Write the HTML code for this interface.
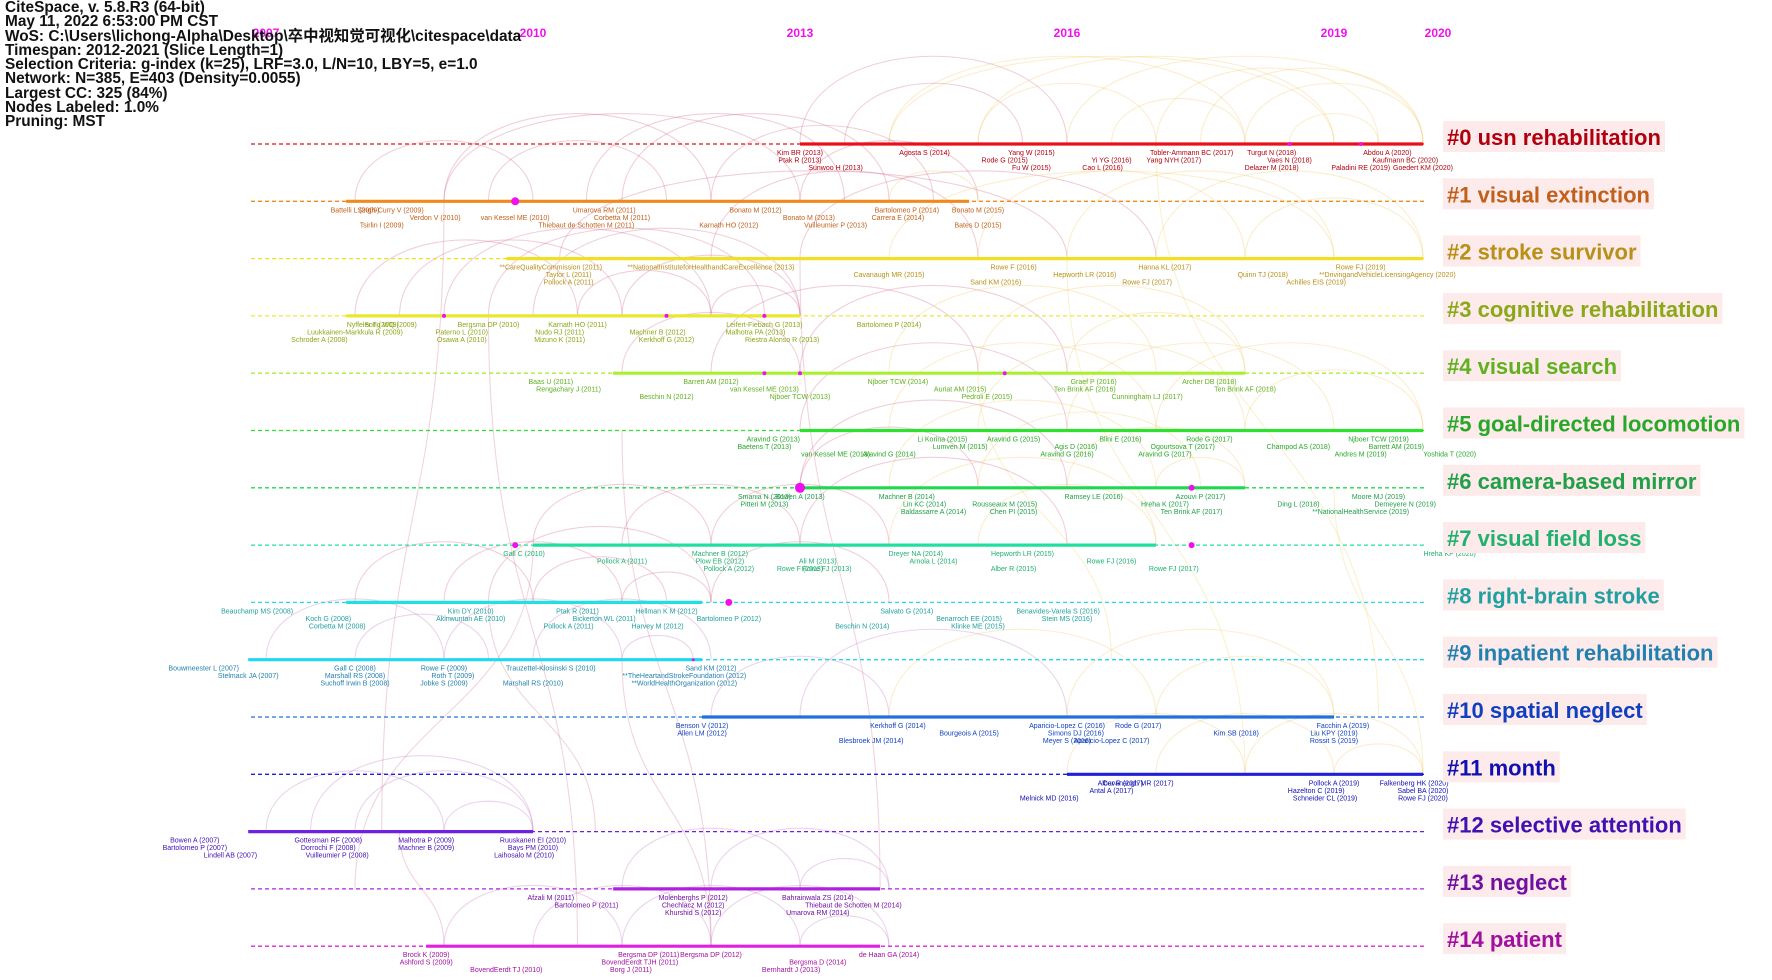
<!DOCTYPE html>
<html><head><meta charset="utf-8">
<style>
html,body{margin:0;padding:0;background:#fff;}
body{width:1772px;height:980px;overflow:hidden;position:relative;font-family:"Liberation Sans","Noto Sans CJK SC",sans-serif;}
#hdr{position:absolute;left:5px;top:1px;font-weight:bold;font-size:15.4px;line-height:14.3px;color:#111;z-index:3;}
svg{position:absolute;left:0;top:0;}
</style></head><body>
<div id="hdr">
CiteSpace, v. 5.8.R3 (64-bit)<br>May 11, 2022 6:53:00 PM CST<br>WoS: C:\Users\lichong-Alpha\Desktop\卒中视知觉可视化\citespace\data<br>Timespan: 2012-2021 (Slice Length=1)<br>Selection Criteria: g-index (k=25), LRF=3.0, L/N=10, LBY=5, e=1.0<br>Network: N=385, E=403 (Density=0.0055)<br>Largest CC: 325 (84%)<br>Nodes Labeled: 1.0%<br>Pruning: MST
</div>
<svg id="chart" width="1772" height="980"></svg>
<script>
const yearTicks=[2007,2010,2013,2016,2019,2020];
const clusterNames=["#0 usn rehabilitation","#1 visual extinction","#2 stroke survivor","#3 cognitive rehabilitation","#4 visual search","#5 goal-directed locomotion","#6 camera-based mirror","#7 visual field loss","#8 right-brain stroke","#9 inpatient rehabilitation","#10 spatial neglect","#11 month","#12 selective attention","#13 neglect","#14 patient"];
const segStart=[2013,2007.9,2009.7,2007.9,2010.9,2013,2013,2010,2007.9,2006.8,2011.9,2016,2006.8,2010.9,2008.8];
const segEnd=[2020,2014.9,2020,2013,2018,2020,2018,2017,2011.9,2011.9,2019,2020,2010,2013.9,2013.9];
const lineColors=["#e8101a","#f08a1a","#f0e020","#e8e830","#a8f030","#30e030","#20d850","#20e0a0","#20e0e0","#20d8f0","#2070e0","#2020d8","#7020e0","#b020e0","#e020e0"];
const labelColors=["#b00010","#c0601a","#b89018","#8aa818","#60b020","#28a828","#20a048","#20b070","#20a0a0","#2080b0","#1040c0","#1010b0","#4010b0","#7010a0","#a010a0"];
const nodeLabels=[
[[2013,"Kim BR (2013)"],[2013,"Ptak R (2013)"],[2013.4,"Sunwoo H (2013)"],[2014.4,"Agosta S (2014)"],[2015.3,"Rode G (2015)"],[2015.6,"Fu W (2015)"],[2015.6,"Yang W (2015)"],[2016.5,"Yi YG (2016)"],[2016.4,"Cao L (2016)"],[2017.4,"Tobler-Ammann BC (2017)"],[2017.2,"Yang NYH (2017)"],[2018.3,"Delazer M (2018)"],[2018.3,"Turgut N (2018)"],[2018.5,"Vaes N (2018)"],[2019.3,"Paladini RE (2019)"],[2019.6,"Abdou A (2020)"],[2019.8,"Kaufmann BC (2020)"],[2020,"Goedert KM (2020)"]],
[[2008,"Battelli L (2009)"],[2008.9,"Verdon V (2010)"],[2008.3,"Tsirlin I (2009)"],[2008.4,"Singh-Curry V (2009)"],[2009.8,"van Kessel ME (2010)"],[2010.6,"Thiebaut de Schotten M (2011)"],[2010.8,"Umarova RM (2011)"],[2011,"Corbetta M (2011)"],[2012.2,"Karnath HO (2012)"],[2012.5,"Bonato M (2012)"],[2013.1,"Bonato M (2013)"],[2013.4,"Vuilleumier P (2013)"],[2014.2,"Bartolomeo P (2014)"],[2014.1,"Carrera E (2014)"],[2015,"Bates D (2015)"],[2015,"Bonato M (2015)"]],
[[2010.2,"**CareQualityCommission (2011)"],[2010.4,"Taylor L (2011)"],[2010.4,"Pollock A (2011)"],[2012,"**NationalInstituteforHealthandCareExcellence (2013)"],[2014,"Cavanaugh MR (2015)"],[2015.2,"Sand KM (2016)"],[2015.4,"Rowe F (2016)"],[2016.2,"Hepworth LR (2016)"],[2016.9,"Rowe FJ (2017)"],[2017.1,"Hanna KL (2017)"],[2018.2,"Quinn TJ (2018)"],[2018.8,"Achilles EIS (2019)"],[2019.3,"Rowe FJ (2019)"],[2019.6,"**DrivingandVehicleLicensingAgency (2020)"]],
[[2008.2,"Nyffeler T (2009)"],[2008,"Luukkainen-Markkula R (2009)"],[2007.6,"Schroder A (2008)"],[2008.4,"Song WQ (2009)"],[2009.2,"Paterno L (2010)"],[2009.2,"Osawa A (2010)"],[2009.5,"Bergsma DP (2010)"],[2010.3,"Nudo RJ (2011)"],[2010.3,"Mizuno K (2011)"],[2010.5,"Karnath HO (2011)"],[2011.4,"Machner B (2012)"],[2011.5,"Kerkhoff G (2012)"],[2012.6,"Leifert-Fiebach G (2013)"],[2012.5,"Malhotra PA (2013)"],[2012.8,"Riestra Alonso R (2013)"],[2014,"Bartolomeo P (2014)"]],
[[2010.2,"Baas U (2011)"],[2010.4,"Rengachary J (2011)"],[2011.5,"Beschin N (2012)"],[2012,"Barrett AM (2012)"],[2012.6,"van Kessel ME (2013)"],[2013,"Njboer TCW (2013)"],[2014.1,"Njboer TCW (2014)"],[2014.8,"Auriat AM (2015)"],[2015.1,"Pedroli E (2015)"],[2016.3,"Graef P (2016)"],[2016.2,"Ten Brink AF (2016)"],[2016.9,"Cunningham LJ (2017)"],[2017.6,"Archer DB (2018)"],[2018,"Ten Brink AF (2018)"]],
[[2012.7,"Aravind G (2013)"],[2012.6,"Baetens T (2013)"],[2013.4,"van Kessel ME (2013)"],[2014.6,"Li Korina (2015)"],[2014.8,"Lumven M (2015)"],[2014,"Aravind G (2014)"],[2015.4,"Aravind G (2015)"],[2016.1,"Agis D (2016)"],[2016,"Aravind G (2016)"],[2016.6,"Blini E (2016)"],[2017.3,"Ogourtsova T (2017)"],[2017.1,"Aravind G (2017)"],[2017.6,"Rode G (2017)"],[2018.6,"Champod AS (2018)"],[2019.3,"Andres M (2019)"],[2019.5,"Njboer TCW (2019)"],[2019.7,"Barrett AM (2019)"],[2020.3,"Yoshida T (2020)"]],
[[2012.6,"Smania N (2013)"],[2012.6,"Pitteri M (2013)"],[213.0,""],[2013,"Bowen A (2013)"],[2014.4,"Lin KC (2014)"],[2014.5,"Baldassarre A (2014)"],[2014.2,"Machner B (2014)"],[2015.3,"Rousseaux M (2015)"],[2015.4,"Chen PI (2015)"],[2016.3,"Ramsey LE (2016)"],[2017.1,"Hreha K (2017)"],[2017.4,"Ten Brink AF (2017)"],[2017.5,"Azouvi P (2017)"],[2018.6,"Ding L (2018)"],[2019.3,"**NationalHealthService (2019)"],[2019.5,"Moore MJ (2019)"],[2019.8,"Demeyere N (2019)"]],
[[2009.9,"Gall C (2010)"],[2011,"Pollock A (2011)"],[2012.2,"Pollock A (2012)"],[2012.1,"Machner B (2012)"],[2012.1,"Plow EB (2012)"],[2013,"Rowe F (2013)"],[213,""],[2013.2,"Ali M (2013)"],[2013.3,"Rowe FJ (2013)"],[2014.3,"Dreyer NA (2014)"],[2014.5,"Arnola L (2014)"],[2015.4,"Alber R (2015)"],[2015.5,"Hepworth LR (2015)"],[2016.5,"Rowe FJ (2016)"],[2017.2,"Rowe FJ (2017)"],[2020.3,"Hreha KP (2020)"]],
[[2006.9,"Beauchamp MS (2008)"],[2007.7,"Koch G (2008)"],[2007.8,"Corbetta M (2008)"],[2009.3,"Kim DY (2010)"],[2009.3,"Akinwuntan AE (2010)"],[2010.4,"Pollock A (2011)"],[2010.5,"Ptak R (2011)"],[2010.8,"Bickerton WL (2011)"],[2011.4,"Harvey M (2012)"],[2011.5,"Hellman K M (2012)"],[2012.2,"Bartolomeo P (2012)"],[2013.7,"Beschin N (2014)"],[2014.2,"Salvato G (2014)"],[2014.9,"Benarroch EE (2015)"],[2015,"Klinke ME (2015)"],[2015.9,"Benavides-Varela S (2016)"],[2016,"Stein MS (2016)"]],
[[2006.3,"Bouwmeester L (2007)"],[2006.8,"Stelmack JA (2007)"],[2008,"Suchoff Irwin B (2008)"],[2008,"Gall C (2008)"],[2008,"Marshall RS (2008)"],[2009,"Jobke S (2009)"],[2009,"Rowe F (2009)"],[2009.1,"Roth T (2009)"],[2010,"Marshall RS (2010)"],[2010.2,"Trauzettel-Klosinski S (2010)"],[2011.7,"**TheHeartandStrokeFoundation (2012)"],[2011.7,"**WorldHealthOrganization (2012)"],[2012,"Sand KM (2012)"]],
[[2011.9,"Benson V (2012)"],[2011.9,"Allen LM (2012)"],[2013.8,"Blesbroek JM (2014)"],[2014.1,"Kerkhoff G (2014)"],[2014.9,"Bourgeois A (2015)"],[2016,"Meyer S (2016)"],[2016,"Aparicio-Lopez C (2016)"],[2016.1,"Simons DJ (2016)"],[2016.5,"Aparicio-Lopez C (2017)"],[2016.8,"Rode G (2017)"],[2017.9,"Kim SB (2018)"],[2019,"Rossit S (2019)"],[2019.1,"Facchin A (2019)"],[2019,"Liu KPY (2019)"]],
[[2016.6,"Alber R (2017)"],[2016.5,"Antal A (2017)"],[2015.8,"Melnick MD (2016)"],[2016.8,"Cavanaugh MR (2017)"],[2018.8,"Hazelton C (2019)"],[2018.9,"Schneider CL (2019)"],[2019,"Pollock A (2019)"],[2020,"Sabel BA (2020)"],[2020,"Rowe FJ (2020)"],[2019.9,"Falkenberg HK (2020)"]],
[[2006.2,"Bowen A (2007)"],[2006.2,"Bartolomeo P (2007)"],[2006.6,"Lindell AB (2007)"],[2007.7,"Gottesman RF (2008)"],[2007.7,"Dorrochi F (2008)"],[2007.8,"Vuilleumier P (2008)"],[2008.8,"Malhotra P (2009)"],[2008.8,"Machner B (2009)"],[2009.9,"Laihosalo M (2010)"],[2010,"Ruuskanen EI (2010)"],[2010,"Bays PM (2010)"]],
[[2010.2,"Afzali M (2011)"],[2010.6,"Bartolomeo P (2011)"],[2011.8,"Khurshid S (2012)"],[2011.8,"Molenberghs P (2012)"],[2011.8,"Chechlacz M (2012)"],[2013.2,"Umarova RM (2014)"],[2013.2,"Bahrainwala ZS (2014)"],[2013.6,"Thiebaut de Schotten M (2014)"]],
[[2008.8,"Brock K (2009)"],[2008.8,"Ashford S (2009)"],[2009.7,"BovendEerdt TJ (2010)"],[2011.3,"Bergsma DP (2011)"],[2011.2,"BovendEerdt TJH (2011)"],[2011.1,"Borg J (2011)"],[2012,"Bergsma DP (2012)"],[2013.2,"Bergsma D (2014)"],[2012.9,"Bernhardt J (2013)"],[2014,"de Haan GA (2014)"]]
];
const arcsFrom=[[2013,2014,2015,2016,2013.5,2017,2018,2015,2016.5,2014,2017.5,2018.5],[2008,2009,2009.5,2010.6,2011,2012,2013,2009,2014],[2010.3,2012,2013,2014,2015,2016,2017,2018],[2008,2008.5,2009,2009.5,2010,2011,2012,2010.5],[2011,2012,2013,2014,2015,2016],[2013,2014,2015,2016,2017,2018],[2013,2013,2014,2015,2016,2017],[2010,2011,2012,2013,2014,2015],[2008,2009,2009.5,2010,2011,2012],[2007,2008,2009,2010,2011],[2012,2013,2014,2016,2017],[2016,2017,2018,2019],[2007,2007.5,2008,2009],[2011,2012,2013],[2009,2010,2011,2012,2013]];
const arcsTo=[[2016,2018,2019,2020,2015.5,2019.5,2020,2017,2018,2019,2020,2019.5],[2010,2012,2011.5,2013.5,2014,2014.5,2015,2013,2015],[2016,2015,2017,2019,2018,2019,2020,2020],[2010.5,2011,2012,2012.6,2013,2013,2013,2012],[2013,2015,2016,2017,2018,2018],[2016,2017,2018,2019,2020,2020],[2015,2016,2017,2017.5,2018,2018],[2012,2013,2014,2016,2017,2017],[2010,2011,2012,2011.5,2012,2014],[2009,2009.5,2011,2012,2011.8],[2014,2016,2017,2019,2019],[2018,2019,2020,2020],[2009,2010,2010,2010],[2013,2014,2014],[2011,2012,2013,2014,2014]];
const hubYears=[[2018.5,2019.3],[2009.8],[],[2009,2011.5,2012.6],[2012.6,2013,2015.3],[],[2013,2017.4],[2009.8,2017.4],[2012.2],[2011.8],[],[],[],[],[]];
const hubSizes=[[2,2],[4],[],[2,2,2],[2,2,2],[],[5,3],[3,3],[3.5],[1.5],[],[],[],[],[]];
const crossFrom=[[2009,1],[2009.5,3],[2010,7],[2011,9],[2008.5,12],[2010.7,12],[2012,14],[2013.9,13],[2016,2],[2017,0],[2019,6],[2015,4]];
const crossTo=[[2008.3,12],[2010.5,14],[2008,13],[2012,14],[2009,14],[2009.5,8],[2011,5],[2013,2],[2018,11],[2019.5,10],[2020,11],[2016.5,9]];

const svg=document.getElementById('chart');
const NS='http://www.w3.org/2000/svg';
const xs=y=>266+89*(y-2007);
const ys=i=>144+57.3*i;
function mk(tag,attrs,parent){const e=document.createElementNS(NS,tag);for(const k in attrs)e.setAttribute(k,attrs[k]);(parent||svg).appendChild(e);return e;}
const gArcs=mk('g',{});


crossFrom.forEach((f,k)=>{const t=crossTo[k];const x1=xs(f[0]),y1=ys(f[1]),x2=xs(t[0]),y2=ys(t[1]);
 const p=mk('path',{d:`M${x1},${y1} C${x1},${(y1+y2)/2} ${x2},${(y1+y2)/2} ${x2},${y2}`,fill:'none',stroke:k<8?'#d07090':'#f0d060','stroke-opacity':0.3,'stroke-width':1.1},gArcs);
 
 
});
arcsFrom.forEach((arr,i)=>{arr.forEach((a,j)=>{const b=arcsTo[i][j];const x1=xs(a),x2=xs(b),y=ys(i);const h=Math.min(90,(x2-x1)*0.35);
 const col=a>=2014?'#f2c860':(i<9?'#d06080':'#c070c0');
 const p=mk('path',{d:`M${x1},${y} C${x1},${y-h*1.3} ${x2},${y-h*1.3} ${x2},${y}`,fill:'none',stroke:col,'stroke-opacity':0.3,'stroke-width':1.1},gArcs);
 
 
});});
yearTicks.forEach(yr=>{const t=mk('text',{x:xs(yr)+(yr===2020?15:0),y:37,'text-anchor':'middle',fill:'#ee10ee','font-size':12,'font-weight':'bold','font-family':'Liberation Sans, sans-serif'});t.textContent=yr;
 
 
});
clusterNames.forEach((nm,i)=>{const y=ys(i);
 const g=mk('g',{});
 
 
 const dl=mk('line',{x1:251,x2:1424,y1:y,y2:y,stroke:lineColors[i],'stroke-width':1.3,'stroke-dasharray':'4,3'},g);
 
 
 const sl=mk('line',{x1:xs(segStart[i]),x2:xs(segEnd[i]),y1:y,y2:y,stroke:lineColors[i],'stroke-width':3.2},g);
 
 
 hubYears[i].forEach((hy,k)=>{const c=mk('circle',{cx:xs(hy),cy:y,r:hubSizes[i][k],fill:'#ee10ee'},g);
  
  
 });
 nodeLabels[i].forEach((nl,k)=>{if(!nl[1])return;const t=mk('text',{x:xs(nl[0]),y:y+11+(k%3)*7.5,'text-anchor':'middle',fill:labelColors[i],'font-size':7,'font-family':'Liberation Sans, sans-serif'},g);t.textContent=nl[1];
  
  
 });
 const lt=mk('text',{x:1447,y:y+1,fill:labelColors[i],'font-size':22,'font-weight':'bold','font-family':'Liberation Sans, sans-serif'},g);lt.textContent=nm;
 
 
 const w=lt.getComputedTextLength();
 const bg=mk('rect',{x:1443,y:y-23,width:w+8,height:31,fill:'#fdeaea'});
 g.insertBefore(bg,lt);
 
 
});
</script>
</body></html>
